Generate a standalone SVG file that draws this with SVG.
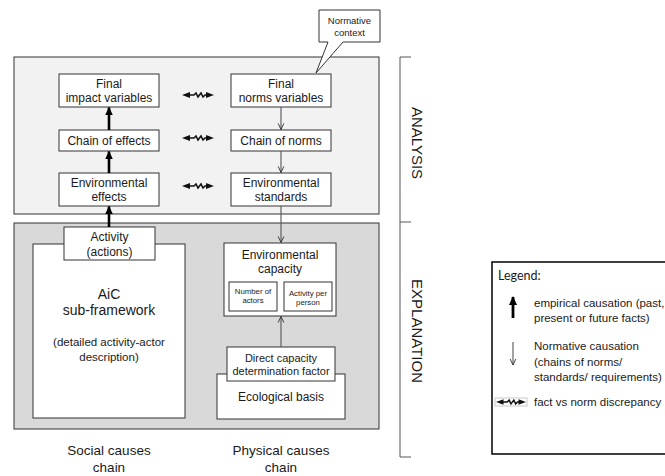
<svg xmlns="http://www.w3.org/2000/svg" width="665" height="476" viewBox="0 0 665 476">
<defs>
<style>
text{font-family:"Liberation Sans",Arial,sans-serif;fill:#1a1a1a;text-anchor:middle}
.box{fill:#fff;stroke:#333;stroke-width:1}
.t12{font-size:12px}
.emp{stroke:#000;stroke-width:2.6;fill:none}
.norm{stroke:#555;stroke-width:1.1;fill:none}
.leg{font-size:11.5px;text-anchor:start}
</style>
<marker id="hEmp" viewBox="0 0 10 10" refX="9" refY="5" markerWidth="3.2" markerHeight="3.2" orient="auto" markerUnits="strokeWidth">
<path d="M0,0.5 L10,5 L0,9.5 Z" fill="#000"/>
</marker>
<marker id="hNorm" viewBox="0 0 10 10" refX="9.5" refY="5" markerWidth="6.5" markerHeight="6.5" orient="auto" markerUnits="strokeWidth">
<path d="M1,1 L9.5,5 L1,9" fill="none" stroke="#333" stroke-width="1.3"/>
</marker>
<symbol id="wavy" viewBox="0 0 32 8" overflow="visible">
<path d="M7,4 L12,4 L14,2 L16,6 L19,2 L21,6 L23,4 L25,4" fill="none" stroke="#111" stroke-width="1.6"/>
<path d="M0,4 L8,1 L8,7 Z" fill="#111"/>
<path d="M32,4 L24,1 L24,7 Z" fill="#111"/>
</symbol>
</defs>

<g id="analysis-panel"><rect x="14" y="57" width="365" height="157" fill="#f2f2f2" stroke="#333" stroke-width="1"/></g>
<g id="explanation-panel"><rect x="14" y="223" width="365" height="206" fill="#d9d9d9" stroke="#333" stroke-width="1"/></g>

<g id="final-impact"><rect class="box" x="59" y="74" width="100" height="33"/><text class="t12" x="109" y="88">Final</text><text class="t12" x="109" y="102">impact variables</text></g>
<g id="final-norms"><rect class="box" x="231" y="74" width="100" height="33"/><text class="t12" x="281" y="88">Final</text><text class="t12" x="281" y="102">norms variables</text></g>
<g id="chain-effects"><rect class="box" x="59" y="130" width="100" height="21"/><text class="t12" x="109" y="144.5">Chain of effects</text></g>
<g id="chain-norms"><rect class="box" x="231" y="130" width="100" height="21"/><text class="t12" x="281" y="144.5">Chain of norms</text></g>
<g id="env-effects"><rect class="box" x="59" y="173" width="100" height="33"/><text class="t12" x="109" y="187">Environmental</text><text class="t12" x="109" y="201">effects</text></g>
<g id="env-standards"><rect class="box" x="231" y="173" width="100" height="33"/><text class="t12" x="281" y="187">Environmental</text><text class="t12" x="281" y="201">standards</text></g>

<g id="normative-context"><path d="M319,10 L380,10 L380,42 L343,42 L316,73 L328,42 L319,42 Z" fill="#fff" stroke="#333" stroke-width="1"/><text x="349.5" y="23.5" font-size="9.5">Normative</text><text x="349.5" y="35.5" font-size="9.5">context</text></g>

<g id="aic"><rect class="box" x="33" y="244" width="152" height="174"/><text x="109" y="299" font-size="14">AiC</text><text x="109" y="315" font-size="14">sub-framework</text><text x="109" y="346" font-size="11.5">(detailed activity-actor</text><text x="109" y="361" font-size="11.5">description)</text></g>
<g id="activity"><rect class="box" x="64" y="227" width="91" height="33"/><text class="t12" x="109.5" y="241">Activity</text><text class="t12" x="109.5" y="256">(actions)</text></g>

<g id="env-capacity"><rect class="box" x="224" y="243" width="112" height="73"/><text class="t12" x="280" y="259">Environmental</text><text class="t12" x="280" y="273">capacity</text>
<rect class="box" x="229" y="282" width="48" height="29"/><text x="253" y="294" font-size="7.8">Number of</text><text x="253" y="303" font-size="7.8">actors</text>
<rect class="box" x="284" y="282" width="48" height="29"/><text x="308" y="296" font-size="7.8">Activity per</text><text x="308" y="305" font-size="7.8">person</text></g>

<g id="ecological-basis"><rect class="box" x="217" y="374" width="128" height="45"/><text class="t12" x="281" y="401">Ecological basis</text></g>
<g id="direct-capacity"><rect class="box" x="227" y="347" width="108" height="34"/><text x="281" y="362" font-size="11">Direct capacity</text><text x="281" y="375" font-size="11">determination factor</text></g>

<g id="connectors">
<line class="emp" x1="109" y1="227" x2="109" y2="206.5" marker-end="url(#hEmp)"/>
<line class="emp" x1="109" y1="173" x2="109" y2="151.5" marker-end="url(#hEmp)"/>
<line class="emp" x1="109" y1="130" x2="109" y2="107.5" marker-end="url(#hEmp)"/>
<line class="norm" x1="281" y1="107" x2="281" y2="129.5" marker-end="url(#hNorm)"/>
<line class="norm" x1="281" y1="151" x2="281" y2="172.5" marker-end="url(#hNorm)"/>
<line class="norm" x1="281" y1="206" x2="281" y2="242.5" marker-end="url(#hNorm)"/>
<line class="norm" x1="281" y1="347" x2="281" y2="316.5" marker-end="url(#hNorm)"/>
<use href="#wavy" x="182" y="91" width="32" height="8"/>
<use href="#wavy" x="182" y="134" width="32" height="8"/>
<use href="#wavy" x="182" y="182" width="32" height="8"/>
</g>

<g id="chain-labels">
<text x="109" y="455" font-size="13.5">Social causes</text><text x="109" y="472" font-size="13.5">chain</text>
<text x="281" y="455" font-size="13.5">Physical causes</text><text x="281" y="472" font-size="13.5">chain</text>
</g>

<g id="brackets" fill="none" stroke="#555" stroke-width="1">
<path d="M411,57 L400,57 L400,457 L411,457 M400,222 L411,222"/>
</g>
<text transform="translate(412,143) rotate(90)" font-size="15">ANALYSIS</text>
<text transform="translate(412,331) rotate(90)" font-size="15">EXPLANATION</text>

<g id="legend">
<rect x="492" y="262" width="180" height="192" fill="#fff" stroke="#000" stroke-width="1.5"/>
<text x="498" y="280" style="font-family:Lato,'Open Sans',sans-serif;font-size:12.5px;text-anchor:start">Legend:</text>
<line stroke="#000" stroke-width="2.8" x1="513" y1="318" x2="513" y2="297" marker-end="url(#hEmp)"/>
<text class="leg" x="534" y="307">empirical causation (past,</text>
<text class="leg" x="534" y="322">present or future facts)</text>
<line class="norm" x1="513" y1="342" x2="513" y2="365" marker-end="url(#hNorm)"/>
<text class="leg" x="534" y="350">Normative causation</text>
<text class="leg" x="534" y="366">(chains of norms/</text>
<text class="leg" x="534" y="381">standards/ requirements)</text>
<rect x="495" y="398" width="32" height="8" fill="#fff" stroke="#bbb" stroke-width="0.8"/>
<use href="#wavy" x="496" y="398" width="30" height="8"/>
<text class="leg" x="534" y="406">fact vs norm discrepancy</text>
</g>
</svg>
